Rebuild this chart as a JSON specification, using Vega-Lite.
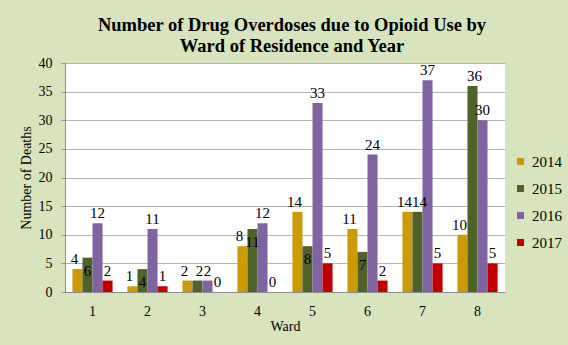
{
  "$schema": "https://vega.github.io/schema/vega-lite/v6.json",
  "autosize": {"type": "none"},
  "width": 440,
  "height": 229,
  "padding": {"left": 65, "top": 63, "right": 63, "bottom": 53},
  "background": "#d7e4bd",
  "title": {
    "text": ["Number of Drug Overdoses due to Opioid Use by", "Ward of Residence and Year"],
    "font": "Liberation Serif",
    "fontSize": 18.5,
    "fontWeight": "bold",
    "color": "#000000",
    "anchor": "middle",
    "dx": 7,
    "offset": 1,
    "lineHeight": 21
  },
  "data": {
    "values": [
      {"ward": "1", "year": "2014", "deaths": 4},
      {"ward": "1", "year": "2015", "deaths": 6},
      {"ward": "1", "year": "2016", "deaths": 12},
      {"ward": "1", "year": "2017", "deaths": 2},
      {"ward": "2", "year": "2014", "deaths": 1},
      {"ward": "2", "year": "2015", "deaths": 4},
      {"ward": "2", "year": "2016", "deaths": 11},
      {"ward": "2", "year": "2017", "deaths": 1},
      {"ward": "3", "year": "2014", "deaths": 2},
      {"ward": "3", "year": "2015", "deaths": 2},
      {"ward": "3", "year": "2016", "deaths": 2},
      {"ward": "3", "year": "2017", "deaths": 0},
      {"ward": "4", "year": "2014", "deaths": 8},
      {"ward": "4", "year": "2015", "deaths": 11},
      {"ward": "4", "year": "2016", "deaths": 12},
      {"ward": "4", "year": "2017", "deaths": 0},
      {"ward": "5", "year": "2014", "deaths": 14},
      {"ward": "5", "year": "2015", "deaths": 8},
      {"ward": "5", "year": "2016", "deaths": 33},
      {"ward": "5", "year": "2017", "deaths": 5},
      {"ward": "6", "year": "2014", "deaths": 11},
      {"ward": "6", "year": "2015", "deaths": 7},
      {"ward": "6", "year": "2016", "deaths": 24},
      {"ward": "6", "year": "2017", "deaths": 2},
      {"ward": "7", "year": "2014", "deaths": 14},
      {"ward": "7", "year": "2015", "deaths": 14},
      {"ward": "7", "year": "2016", "deaths": 37},
      {"ward": "7", "year": "2017", "deaths": 5},
      {"ward": "8", "year": "2014", "deaths": 10},
      {"ward": "8", "year": "2015", "deaths": 36},
      {"ward": "8", "year": "2016", "deaths": 30},
      {"ward": "8", "year": "2017", "deaths": 5}
    ]
  },
  "encoding": {
    "x": {
      "field": "ward",
      "type": "ordinal",
      "scale": {"paddingInner": 0.27, "paddingOuter": 0.135},
      "axis": {
        "title": "Ward",
        "labelAngle": 0,
        "ticks": false,
        "tickSize": 0,
        "labelPadding": 12,
        "titlePadding": 1,
        "grid": false
      }
    },
    "xOffset": {"field": "year", "type": "nominal"},
    "y": {
      "field": "deaths",
      "type": "quantitative",
      "scale": {"domain": [0, 40], "nice": false},
      "axis": {
        "title": "Number of Deaths",
        "values": [0, 5, 10, 15, 20, 25, 30, 35, 40],
        "tickSize": 4,
        "labelPadding": 9,
        "titlePadding": 5,
        "grid": true
      }
    }
  },
  "layer": [
    {
      "mark": {"type": "bar"},
      "encoding": {
        "color": {
          "field": "year",
          "type": "nominal",
          "scale": {"domain": ["2014", "2015", "2016", "2017"], "range": ["#cc9a06", "#4f6228", "#8064a2", "#c00000"]},
          "legend": {
            "title": null,
            "orient": "none",
            "legendX": 448,
            "legendY": 91,
            "symbolType": "square",
            "symbolSize": 49,
            "symbolStrokeWidth": 0,
            "labelFont": "Liberation Serif",
            "labelFontSize": 15,
            "labelColor": "#000000",
            "labelOffset": 4,
            "rowPadding": 11
          }
        }
      }
    },
    {
      "transform": [{"filter": "datum.year === '2014'"}],
      "mark": {"type": "text", "baseline": "bottom", "dy": -2, "dx": -3, "font": "Liberation Serif", "fontSize": 15, "color": "#000000"},
      "encoding": {"text": {"field": "deaths", "type": "quantitative"}}
    },
    {
      "transform": [{"filter": "datum.year === '2015' && (datum.deaths < 4 || datum.deaths > 11)"}],
      "mark": {"type": "text", "baseline": "bottom", "dy": -2, "dx": 2, "font": "Liberation Serif", "fontSize": 15, "color": "#000000"},
      "encoding": {"text": {"field": "deaths", "type": "quantitative"}}
    },
    {
      "transform": [{"filter": "datum.year === '2015' && datum.deaths >= 4 && datum.deaths <= 11"}],
      "mark": {"type": "text", "baseline": "top", "dy": 6, "font": "Liberation Serif", "fontSize": 15, "color": "#000000"},
      "encoding": {"text": {"field": "deaths", "type": "quantitative"}}
    },
    {
      "transform": [{"filter": "datum.year === '2016' || datum.year === '2017'"}],
      "mark": {"type": "text", "baseline": "bottom", "dy": -2, "font": "Liberation Serif", "fontSize": 15, "color": "#000000"},
      "encoding": {"text": {"field": "deaths", "type": "quantitative"}}
    }
  ],
  "config": {
    "view": {"fill": "#ffffff", "stroke": null},
    "axis": {
      "labelFont": "Liberation Serif",
      "labelFontSize": 14,
      "labelColor": "#000000",
      "titleFont": "Liberation Serif",
      "titleFontSize": 14,
      "titleFontWeight": "normal",
      "titleColor": "#000000",
      "domainColor": "#8c8c8c",
      "tickColor": "#8c8c8c",
      "gridColor": "#b4b4b4",
      "gridWidth": 1
    }
  }
}
